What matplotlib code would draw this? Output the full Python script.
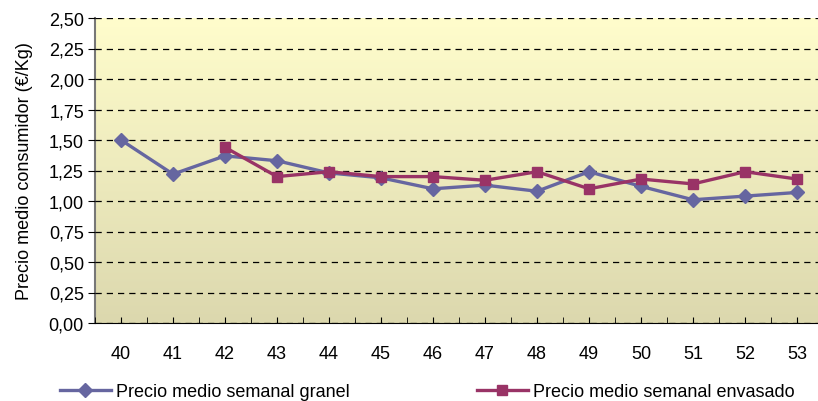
import numpy as np
import matplotlib.pyplot as plt
from matplotlib.colors import LinearSegmentedColormap
from matplotlib.ticker import MultipleLocator, FuncFormatter

plt.rcParams['font.family'] = ['Liberation Sans', 'DejaVu Sans']

semanas = [40, 41, 42, 43, 44, 45, 46, 47, 48, 49, 50, 51, 52, 53]
granel = [1.50, 1.22, 1.37, 1.33, 1.23, 1.19, 1.10, 1.13, 1.08, 1.24, 1.12, 1.01, 1.04, 1.07]
sem_env = [42, 43, 44, 45, 46, 47, 48, 49, 50, 51, 52, 53]
envasado = [1.44, 1.20, 1.24, 1.20, 1.20, 1.17, 1.24, 1.10, 1.18, 1.14, 1.24, 1.18]

col_granel = '#6666a0'
col_env = '#993366'
fs = 13

fig = plt.figure(figsize=(8.18, 4.02), dpi=100)
ax = fig.add_axes([95 / 818, 1 - 324 / 402, 728 / 818, 305 / 402])

# fondo degradado
cmap = LinearSegmentedColormap.from_list('fondo', ['#dcd8ae', '#fffdcc'])
grad = np.linspace(0, 1, 256).reshape(-1, 1)
ax.imshow(grad, aspect='auto', cmap=cmap, origin='lower',
          extent=[39.5, 53.5, 0, 2.5], zorder=0)

ax.plot(semanas, granel, color=col_granel, lw=2.4, marker='D', ms=7,
        label='Precio medio semanal granel', zorder=3)
ax.plot(sem_env, envasado, color=col_env, lw=2.4, marker='s', ms=7.5,
        label='Precio medio semanal envasado', zorder=4)

ax.set_xlim(39.5, 53.5)
ax.set_ylim(0, 2.5)
ax.set_xticks(semanas)
ax.xaxis.set_minor_locator(MultipleLocator(0.5))
ax.yaxis.set_major_locator(MultipleLocator(0.25))
ax.yaxis.set_major_formatter(FuncFormatter(lambda v, p: f'{v:.2f}'.replace('.', ',')))
ax.tick_params(axis='x', which='both', length=4, direction='in', pad=16, labelsize=fs)
ax.tick_params(axis='y', length=5, direction='out', labelsize=fs, pad=3)
ax.grid(axis='y', color='black', linestyle=(0, (5, 4)), lw=0.9, zorder=1)
ax.set_axisbelow(False)

for s in ['top', 'right']:
    ax.spines[s].set_visible(False)
ax.spines['left'].set_color('#777777')
ax.spines['left'].set_linewidth(1.5)
ax.spines['bottom'].set_color('black')

ax.set_ylabel('Precio medio consumidor (€/Kg)', fontsize=fs, labelpad=11)

h, l = ax.get_legend_handles_labels()
fig.legend([h[0]], [l[0]], loc='center left', bbox_to_anchor=(60 / 818, 9.5 / 402),
           frameon=False, fontsize=fs, handlelength=2.8, handletextpad=0.3,
           borderpad=0, borderaxespad=0)
fig.legend([h[1]], [l[1]], loc='center left', bbox_to_anchor=(477 / 818, 9.5 / 402),
           frameon=False, fontsize=fs, handlelength=2.8, handletextpad=0.3,
           borderpad=0, borderaxespad=0)

fig.savefig('out.png', dpi=100)
